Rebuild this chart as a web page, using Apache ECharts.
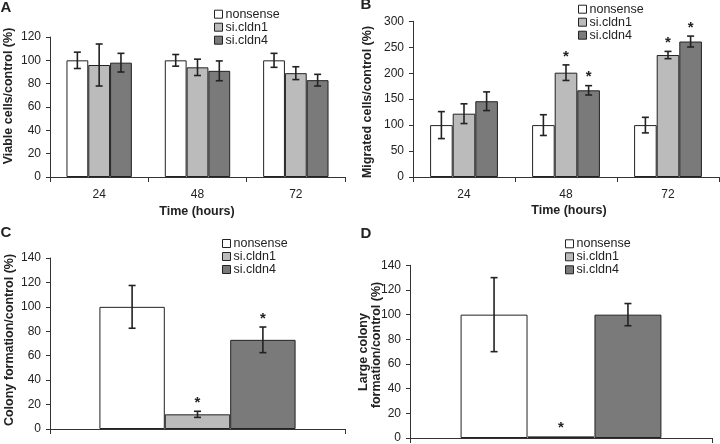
<!DOCTYPE html>
<html>
<head>
<meta charset="utf-8">
<script src="https://cdn.jsdelivr.net/npm/echarts@6/dist/echarts.min.js"></script>
<style>
  html, body { margin: 0; padding: 0; background: #fff; }
  #main { width: 720px; height: 444px; }
</style>
</head>
<body>
<div id="main"></div>
<script>
// data
var seriesNames = ['nonsense', 'si.cldn1', 'si.cldn4'];
var hours = ['24', '48', '72'];

// A - viable cells
var viableNonsense = [100, 100, 100];
var viableNonsenseErr = [7, 5, 6];
var viableCldn1 = [96, 94, 89];
var viableCldn1Err = [18, 7, 5.5];
var viableCldn4 = [98, 91, 83];
var viableCldn4Err = [8, 8.5, 5];

// B - migrated cells
var migNonsense = [100, 100, 100];
var migNonsenseErr = [26, 20, 15];
var migCldn1 = [122, 201, 235];
var migCldn1Err = [19, 15, 7];
var migCldn4 = [146, 167, 261];
var migCldn4Err = [18, 9, 10.5];
var migStars1 = [0, 1, 1];
var migStars4 = [0, 1, 1];

// C - colony formation
var colNonsense = [100];
var colNonsenseErr = [17.5];
var colCldn1 = [12];
var colCldn1Err = [2.5];
var colCldn4 = [73];
var colCldn4Err = [10.5];
var colStars = [0, 1, 1];

// D - large colony formation
var largeNonsense = [100];
var largeNonsenseErr = [30];
var largeCldn1 = [1.3];
var largeCldn1Err = [0];
var largeCldn4 = [100];
var largeCldn4Err = [9];
var largeStars = [0, 1, 0];

var colors = ['#ffffff', '#bbbbbb', '#7a7a7a'];
var font = 'Liberation Sans, Arial, sans-serif';
var GAP = 0.335;

var series = [];

function addPanel(k, vals, errs, stars) {
  for (var i = 0; i < 3; i++) {
    series.push({
      name: seriesNames[i],
      type: 'bar',
      xAxisIndex: k,
      yAxisIndex: k,
      barGap: '0%',
      barCategoryGap: (GAP * 100) + '%',
      data: vals[i],
      itemStyle: { color: colors[i], borderColor: '#222', borderWidth: 1 },
      emphasis: { disabled: true },
      z: 2
    });
  }
  for (var i = 0; i < 3; i++) {
    var d = [];
    for (var j = 0; j < vals[i].length; j++) {
      d.push([j, vals[i][j], errs[i][j], stars[i][j] || 0]);
    }
    (function (slot) {
      series.push({
        name: 'err' + k + '_' + slot,
        type: 'custom',
        xAxisIndex: k,
        yAxisIndex: k,
        z: 5,
        silent: true,
        encode: { x: 0, y: 1 },
        data: d,
        renderItem: function (params, api) {
          var idx = api.value(0), v = api.value(1), e = api.value(2), s = api.value(3);
          var band = api.size([1, 0])[0];
          var bw = band * (1 - GAP) / 3;
          var cx = api.coord([idx, v])[0] + (slot - 1) * bw;
          var top = api.coord([idx, v + e])[1];
          var bot = api.coord([idx, v - e])[1];
          var st = { stroke: '#222', lineWidth: 1.6 };
          var kids = [];
          if (e > 0) {
            kids.push({ type: 'line', shape: { x1: cx, y1: top, x2: cx, y2: bot }, style: st });
            kids.push({ type: 'line', shape: { x1: cx - 3.5, y1: top, x2: cx + 3.5, y2: top }, style: st });
            kids.push({ type: 'line', shape: { x1: cx - 3.5, y1: bot, x2: cx + 3.5, y2: bot }, style: st });
          }
          if (s) {
            kids.push({
              type: 'text',
              style: { x: cx, y: top - 16, text: '*', fill: '#222', font: 'bold 15px ' + font, align: 'center', verticalAlign: 'top' }
            });
          }
          return { type: 'group', children: kids };
        }
      });
    })(i);
  }
}

addPanel(0, [viableNonsense, viableCldn1, viableCldn4], [viableNonsenseErr, viableCldn1Err, viableCldn4Err], [[], [], []]);
addPanel(1, [migNonsense, migCldn1, migCldn4], [migNonsenseErr, migCldn1Err, migCldn4Err], [[], migStars1, migStars4]);
addPanel(2, [colNonsense, colCldn1, colCldn4], [colNonsenseErr, colCldn1Err, colCldn4Err], [[colStars[0]], [colStars[1]], [colStars[2]]]);
addPanel(3, [largeNonsense, largeCldn1, largeCldn4], [largeNonsenseErr, largeCldn1Err, largeCldn4Err], [[largeStars[0]], [largeStars[1]], [largeStars[2]]]);

var grids = [
  { left: 50, top: 37, width: 295, height: 140 },
  { left: 413, top: 21.3, width: 306, height: 155.7 },
  { left: 50, top: 258, width: 295, height: 171 },
  { left: 410, top: 265.3, width: 302, height: 174 }
];
var yMax = [120, 300, 140, 140];
var yStep = [20, 50, 20, 20];

function xAxis(k, cats, showLabel) {
  return {
    type: 'category',
    gridIndex: k,
    data: cats,
    axisLine: { lineStyle: { color: '#333', width: 1 } },
    axisTick: { show: true, interval: 0, length: 5, lineStyle: { color: '#333' } },
    axisLabel: { show: showLabel, margin: 12, color: '#222', fontSize: 12, fontFamily: font },
    splitLine: { show: false }
  };
}
function yAxis(k) {
  return {
    type: 'value',
    gridIndex: k,
    min: 0,
    max: yMax[k],
    interval: yStep[k],
    axisLine: { show: true, lineStyle: { color: '#333', width: 1 } },
    axisTick: { show: true, length: 4, lineStyle: { color: '#333' } },
    axisLabel: { margin: 9, color: '#222', fontSize: 12, fontFamily: font },
    splitLine: { show: false }
  };
}

function legend(left, top) {
  return {
    data: seriesNames,
    orient: 'vertical',
    left: left,
    top: top,
    padding: 0,
    itemWidth: 8,
    itemHeight: 8,
    itemGap: 0,
    icon: 'rect',
    selectedMode: false,
    itemStyle: { borderColor: '#222', borderWidth: 1 },
    textStyle: { fontSize: 12.5, fontFamily: font, color: '#222', lineHeight: 12, padding: [0, 0, 0, -2] }
  };
}

function label(text, x, y, size, rot) {
  return {
    type: 'text',
    x: x, y: y,
    rotation: rot ? Math.PI / 2 : 0,
    style: { text: text, font: 'bold ' + size + 'px ' + font, fill: '#222', align: 'center', verticalAlign: 'middle' }
  };
}

var option = {
  backgroundColor: '#fff',
  animation: false,
  grid: grids,
  xAxis: [xAxis(0, hours, true), xAxis(1, hours, true), xAxis(2, [''], false), xAxis(3, [''], false)],
  yAxis: [yAxis(0), yAxis(1), yAxis(2), yAxis(3)],
  legend: [legend(214, 7.7), legend(578, 2.7), legend(222, 237), legend(565, 237.3)],
  series: series,
  graphic: [
    label('A', 6, 8, 15),
    label('B', 366, 5, 15),
    label('C', 6, 233, 15),
    label('D', 366, 234, 15),
    label('Time (hours)', 197, 212, 12.5),
    label('Time (hours)', 569, 211, 12.5),
    label('Viable cells/control (%)', 9, 96, 12.5, true),
    label('Migrated cells/control (%)', 368, 102, 12.5, true),
    label('Colony formation/control (%)', 10, 340, 12.5, true),
    label('Large colony', 364, 352, 12.5, true),
    label('formation/control (%)', 377, 345, 12.5, true)
  ]
};

var chart = echarts.init(document.getElementById('main'));
chart.setOption(option);
</script>
</body>
</html>
